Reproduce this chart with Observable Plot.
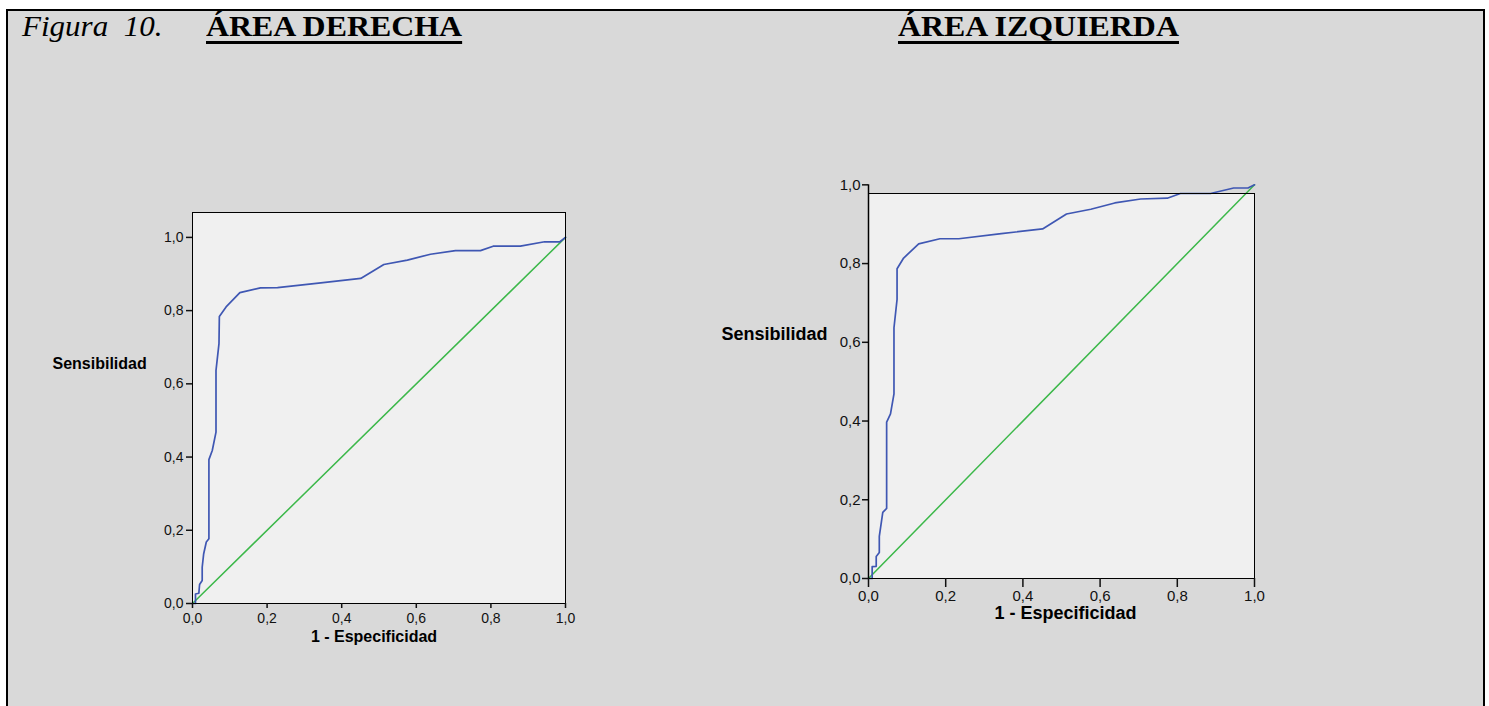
<!DOCTYPE html>
<html><head><meta charset="utf-8">
<script src="https://cdn.jsdelivr.net/npm/d3@7"></script>
<script src="https://cdn.jsdelivr.net/npm/@observablehq/plot@0.6"></script>
<style>
html,body{margin:0;padding:0;background:#fff;overflow:hidden;}
#page{position:relative;width:1489px;height:706px;overflow:hidden;background:#fff;}
#box{position:absolute;left:6px;top:9px;width:1479px;height:730px;box-sizing:border-box;border:2px solid #000;background:#d9d9d9;}
.t{position:absolute;font-family:"Liberation Serif","Times New Roman",serif;font-size:29px;line-height:29px;white-space:pre;color:#000;transform-origin:0 0;}
.u{font-weight:bold;text-decoration:underline;text-decoration-thickness:3px;text-underline-offset:5px;transform:scaleX(1.1);}
.chart{position:absolute;}
</style></head>
<body><div id="page"><div id="box"></div>
<div class="t" style="left:22px;top:12px;font-style:italic;transform:scaleX(1.07)">Figura  10.</div>
<div class="t u" id="t1" style="left:206px;top:12px"></div>
<div class="t u" id="t2" style="left:898px;top:12px"></div>
<div class="chart" id="c1" style="left:30px;top:200px"></div>
<div class="chart" id="c2" style="left:700px;top:160px"></div>
</div>
<script>
// Titles and labels
const titles = ["ÁREA DERECHA", "ÁREA IZQUIERDA"];
const xLabel = "1 - Especificidad";
const yLabel = "Sensibilidad";
const tickValues = [0, 0.2, 0.4, 0.6, 0.8, 1.0];

// Reference diagonal
const refX = [0, 1];
const refY = [0, 1];

// ROC curve – Área derecha
const fprDer = [0, 0.008, 0.008, 0.017, 0.019, 0.026, 0.026, 0.030, 0.037, 0.044, 0.044, 0.053, 0.063, 0.063, 0.071, 0.072, 0.090, 0.127, 0.182, 0.228, 0.344, 0.451, 0.513, 0.576, 0.638, 0.705, 0.772, 0.806, 0.879, 0.944, 0.985, 1];
const sensDer = [0, 0, 0.026, 0.028, 0.052, 0.063, 0.099, 0.136, 0.168, 0.177, 0.393, 0.418, 0.468, 0.637, 0.710, 0.784, 0.810, 0.849, 0.862, 0.863, 0.876, 0.888, 0.926, 0.938, 0.954, 0.964, 0.964, 0.976, 0.976, 0.988, 0.988, 1];

// ROC curve – Área izquierda
const fprIzq = [0, 0.0095, 0.0095, 0.020, 0.020, 0.028, 0.028, 0.037, 0.047, 0.047, 0.057, 0.066, 0.066, 0.074, 0.074, 0.091, 0.130, 0.185, 0.234, 0.344, 0.451, 0.513, 0.576, 0.638, 0.705, 0.774, 0.808, 0.886, 0.946, 0.983, 1];
const sensIzq = [0, 0, 0.030, 0.031, 0.056, 0.066, 0.107, 0.168, 0.178, 0.397, 0.418, 0.469, 0.637, 0.709, 0.787, 0.814, 0.850, 0.863, 0.863, 0.876, 0.888, 0.926, 0.938, 0.954, 0.964, 0.966, 0.978, 0.978, 0.992, 0.992, 1];

document.getElementById("t1").textContent = titles[0];
document.getElementById("t2").textContent = titles[1];

const fmt = d => d.toFixed(1).replace(".", ",");
const blue = "#3f57b3";
const green = "#3cb84a";

function roc(fpr, sens, c) {
  const marks = [
    Plot.frame({fill: "#f0f0f0", stroke: null}),
    Plot.line(d3.range(refX.length), {x: i => refX[i], y: i => refY[i], stroke: green, strokeWidth: 1.5}),
    Plot.line(d3.range(fpr.length), {x: i => fpr[i], y: i => sens[i], stroke: blue, strokeWidth: 1.7}),
    Plot.frame({stroke: "#000", strokeWidth: 1}),
    Plot.axisX(tickValues, {tickFormat: fmt, tickSize: c.xTickSize, tickPadding: c.xTickPad, fontSize: c.tickFont, label: null, strokeWidth: 1.5}),
    Plot.axisY(tickValues, {tickFormat: fmt, tickSize: c.yTickSize, tickPadding: c.yTickPad, fontSize: c.tickFont, label: null, strokeWidth: 1.5}),
    Plot.text([yLabel], {frameAnchor: "top-left", dx: c.yLabDx, dy: c.yLabDy, textAnchor: "start", fontWeight: "bold", fontSize: c.labFont, fill: "#000"}),
    Plot.text([xLabel], {frameAnchor: "bottom", dx: c.xLabDx, dy: c.xLabDy, fontWeight: "bold", fontSize: c.labFont, fill: "#000"})
  ];
  if (c.axisLine) marks.push(Plot.ruleX([0], {y1: 0, y2: 1, stroke: "#000", strokeWidth: 1.5}));
  return Plot.plot({
    width: c.w, height: c.h,
    marginLeft: c.ml, marginRight: c.mr, marginTop: c.mt, marginBottom: c.mb,
    x: {domain: [0, 1]},
    y: {domain: [0, c.yTop]},
    style: {background: "transparent", fontFamily: "'Liberation Sans', Arial, sans-serif", color: "#111", overflow: "visible"},
    marks
  });
}

document.getElementById("c1").appendChild(roc(fprDer, sensDer, {
  w: 560, h: 460, ml: 162, mr: 25, mt: 12, mb: 57, yTop: 1.068,
  xTickSize: 5, xTickPad: 5, yTickSize: 6, yTickPad: 3, tickFont: 14,
  labFont: 16, yLabDx: -140, yLabDy: 145, xLabDx: -5, xLabDy: 38, axisLine: false
}));

document.getElementById("c2").appendChild(roc(fprIzq, sensIzq, {
  w: 580, h: 480, ml: 168, mr: 26, mt: 33, mb: 62, yTop: 0.978,
  xTickSize: 9, xTickPad: 3, yTickSize: 6, yTickPad: 2, tickFont: 15,
  labFont: 18, yLabDx: -147, yLabDy: 134, xLabDx: 4, xLabDy: 40, axisLine: true
}));
</script>
</body></html>
